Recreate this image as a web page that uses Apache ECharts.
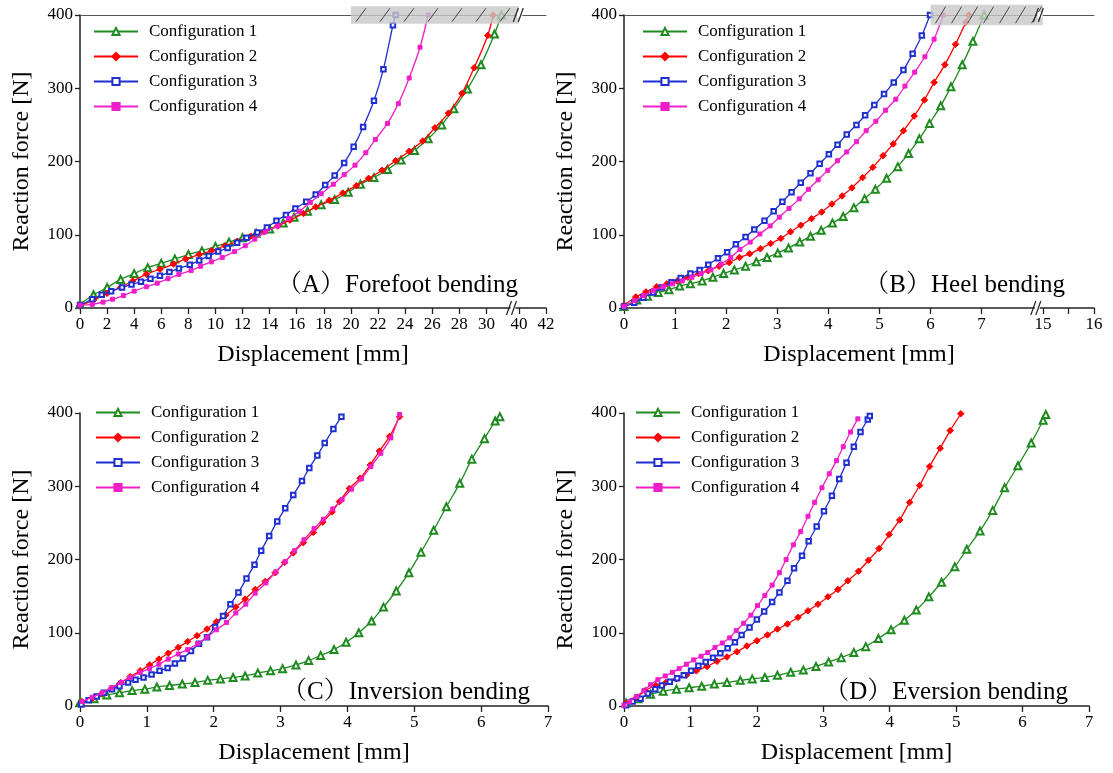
<!DOCTYPE html>
<html><head><meta charset="utf-8">
<script src="https://cdn.jsdelivr.net/npm/echarts@6/dist/echarts.min.js"></script>
<style>html,body{margin:0;padding:0;background:#fff}#c{width:1113px;height:773px}</style>
</head><body><div id="c"></div>
<script>
const SERIES_NAMES = ['Configuration 1', 'Configuration 2', 'Configuration 3', 'Configuration 4'];
const PANEL_TITLES = ['（A）Forefoot bending', '（B）Heel bending', '（C）Inversion bending', '（D）Eversion bending'];

// ---- Panel A: Forefoot bending [displacement mm, force N]
const A_cfg1 = [[0,5],[1,18],[2,28],[3,39],[4,47],[5,55],[6,61],[7,67],[8,73],[9,78],[10,84],[11,90],[12,96],[13,102],[14,108],[15,116],[15.8,124],[16.8,132],[17.8,141],[18.8,148],[19.8,158],[20.7,169],[21.7,178],[22.7,189],[23.7,202],[24.7,215],[25.7,231],[26.7,250],[27.6,272],[28.6,299],[29.6,332],[30.6,374],[31.1,400]];
const A_cfg2 = [[0,3],[1,11],[2,20],[3,28],[3.9,37],[4.9,46],[5.9,53],[6.9,60],[7.8,67],[8.8,73],[9.7,78],[10.7,85],[11.6,91],[12.6,98],[13.6,104],[14.6,112],[15.5,120],[16.5,129],[17.4,138],[18.4,147],[19.4,157],[20.4,167],[21.3,177],[22.3,188],[23.3,201],[24.3,214],[25.3,228],[26.2,246],[27.2,266],[28.2,293],[29.1,328],[30.1,372],[30.5,400]];
const A_cfg3 = [[0,4],[0.9,12],[1.6,18],[2.3,23],[3.1,28],[3.8,32],[4.5,36],[5.2,40],[5.9,44],[6.6,49],[7.3,54],[8.1,59],[8.8,65],[9.5,71],[10.2,77],[10.9,82],[11.6,89],[12.3,96],[13.1,103],[13.8,110],[14.5,119],[15.2,127],[15.9,136],[16.7,145],[17.4,155],[18.1,168],[18.8,181],[19.5,198],[20.2,220],[20.9,247],[21.7,283],[22.4,326],[23.1,386],[23.3,400]];
const A_cfg4 = [[0,4],[0.9,5],[1.7,8],[2.4,12],[3.2,17],[4,23],[4.9,29],[5.7,34],[6.5,40],[7.3,46],[8.2,51],[8.9,57],[9.7,63],[10.5,69],[11.4,77],[12.2,85],[12.9,94],[13.7,104],[14.6,112],[15.4,122],[16.2,132],[17,144],[17.8,156],[18.7,169],[19.5,182],[20.3,195],[21.1,212],[21.8,230],[22.7,252],[23.5,279],[24.3,314],[25.1,356],[25.7,400]];

// ---- Panel B: Heel bending
const B_cfg1 = [[0,2],[0.25,11],[0.46,16],[0.67,21],[0.88,25],[1.09,30],[1.3,33],[1.53,37],[1.74,42],[1.95,47],[2.16,52],[2.38,57],[2.59,63],[2.8,69],[3.01,75],[3.22,82],[3.44,90],[3.65,98],[3.86,106],[4.08,116],[4.29,125],[4.5,137],[4.71,149],[4.92,162],[5.14,177],[5.36,193],[5.57,211],[5.78,231],[5.98,252],[6.2,276],[6.4,302],[6.62,332],[6.83,364],[7.05,400]];
const B_cfg2 = [[0,4],[0.23,15],[0.43,22],[0.64,29],[0.84,33],[1.04,37],[1.25,42],[1.46,47],[1.65,51],[1.86,57],[2.06,62],[2.26,69],[2.46,74],[2.67,81],[2.87,88],[3.07,95],[3.26,104],[3.46,113],[3.67,122],[3.87,131],[4.07,142],[4.27,153],[4.46,164],[4.67,178],[4.87,192],[5.07,208],[5.27,224],[5.47,242],[5.68,262],[5.88,284],[6.07,308],[6.28,332],[6.49,360],[6.69,390],[6.75,400]];
const B_cfg3 = [[0,2],[0.2,7],[0.38,14],[0.57,21],[0.74,28],[0.93,35],[1.11,41],[1.3,47],[1.48,52],[1.65,59],[1.84,68],[2.02,76],[2.19,87],[2.38,97],[2.55,107],[2.75,119],[2.93,132],[3.1,145],[3.28,158],[3.46,171],[3.65,184],[3.83,197],[4.01,210],[4.18,223],[4.36,237],[4.55,250],[4.72,263],[4.9,277],[5.09,292],[5.28,308],[5.47,325],[5.65,347],[5.83,372],[5.99,400]];
const B_cfg4 = [[0,2],[0.21,10],[0.39,17],[0.58,24],[0.77,29],[0.95,33],[1.14,37],[1.33,42],[1.51,47],[1.7,52],[1.9,60],[2.09,69],[2.27,80],[2.47,90],[2.66,101],[2.86,112],[3.04,124],[3.23,136],[3.43,149],[3.61,162],[3.8,175],[3.99,188],[4.18,201],[4.36,213],[4.55,227],[4.74,242],[4.93,255],[5.12,270],[5.32,285],[5.5,303],[5.69,322],[5.89,343],[6.07,367],[6.25,400]];

// ---- Panel C: Inversion bending
const C_cfg1 = [[0,5],[0.21,10],[0.4,15],[0.59,18],[0.78,21],[0.97,23],[1.15,26],[1.34,28],[1.53,30],[1.72,32],[1.91,35],[2.1,37],[2.29,39],[2.47,41],[2.66,45],[2.85,48],[3.03,51],[3.23,56],[3.42,62],[3.6,69],[3.8,77],[3.98,87],[4.17,100],[4.36,116],[4.54,135],[4.73,157],[4.92,182],[5.1,210],[5.29,240],[5.48,272],[5.68,304],[5.86,337],[6.05,365],[6.21,389],[6.28,395]];
const C_cfg2 = [[0.03,6],[0.18,10],[0.33,17],[0.47,24],[0.61,32],[0.75,40],[0.9,48],[1.04,56],[1.18,64],[1.32,72],[1.47,80],[1.61,88],[1.75,96],[1.9,105],[2.04,115],[2.18,124],[2.33,135],[2.47,146],[2.62,159],[2.77,170],[2.92,182],[3.06,196],[3.19,209],[3.34,223],[3.49,237],[3.63,251],[3.77,265],[3.88,279],[4.03,297],[4.19,311],[4.34,329],[4.48,348],[4.63,368],[4.78,395]];
const C_cfg3 = [[0.02,2],[0.13,8],[0.25,13],[0.36,18],[0.48,23],[0.59,27],[0.72,32],[0.83,36],[0.95,39],[1.07,43],[1.19,48],[1.31,52],[1.42,58],[1.54,65],[1.66,75],[1.78,85],[1.9,94],[2.02,108],[2.14,123],[2.25,139],[2.37,155],[2.49,174],[2.61,193],[2.71,212],[2.83,232],[2.95,252],[3.07,270],[3.19,288],[3.32,307],[3.43,325],[3.55,342],[3.66,359],[3.79,378],[3.91,395]];
const C_cfg4 = [[0.03,6],[0.18,12],[0.33,18],[0.47,25],[0.61,32],[0.75,39],[0.9,46],[1.04,51],[1.18,57],[1.32,64],[1.47,71],[1.61,77],[1.76,85],[1.9,94],[2.04,104],[2.19,114],[2.33,127],[2.48,139],[2.62,154],[2.78,168],[2.93,183],[3.07,197],[3.21,212],[3.35,227],[3.5,242],[3.64,255],[3.78,269],[3.92,282],[4.06,296],[4.21,310],[4.35,327],[4.5,345],[4.65,366],[4.78,398]];

// ---- Panel D: Eversion bending
const D_cfg1 = [[0.03,4],[0.21,10],[0.4,16],[0.59,20],[0.79,23],[0.98,25],[1.17,27],[1.36,30],[1.55,32],[1.75,35],[1.93,37],[2.12,39],[2.31,42],[2.51,46],[2.7,49],[2.89,54],[3.08,60],[3.27,66],[3.46,73],[3.64,81],[3.83,92],[4.02,104],[4.22,117],[4.4,131],[4.59,149],[4.78,169],[4.98,190],[5.16,214],[5.36,239],[5.55,267],[5.73,298],[5.93,328],[6.13,359],[6.31,390],[6.35,398]];
const D_cfg2 = [[0.02,3],[0.17,10],[0.32,21],[0.48,28],[0.63,32],[0.79,37],[0.94,42],[1.09,48],[1.25,54],[1.4,61],[1.55,67],[1.7,74],[1.85,82],[2.0,89],[2.16,97],[2.31,105],[2.46,112],[2.62,121],[2.77,130],[2.92,139],[3.07,149],[3.22,159],[3.37,171],[3.53,184],[3.68,199],[3.84,215],[3.99,234],[4.15,254],[4.3,278],[4.45,301],[4.6,327],[4.76,352],[4.91,376],[5.07,399]];
const D_cfg3 = [[0.03,1],[0.13,6],[0.25,10],[0.36,17],[0.47,23],[0.57,28],[0.69,33],[0.8,38],[0.9,42],[1.01,48],[1.12,55],[1.23,60],[1.34,66],[1.45,72],[1.56,79],[1.67,87],[1.77,97],[1.89,107],[2.0,118],[2.11,129],[2.23,142],[2.34,155],[2.46,171],[2.56,188],[2.68,205],[2.78,225],[2.9,245],[3.01,266],[3.13,287],[3.24,310],[3.35,332],[3.46,354],[3.56,374],[3.67,391],[3.7,396]];
const D_cfg4 = [[0,1],[0.08,6],[0.19,13],[0.3,21],[0.4,29],[0.51,36],[0.62,41],[0.73,46],[0.83,51],[0.94,57],[1.05,63],[1.16,68],[1.26,73],[1.37,80],[1.48,86],[1.59,93],[1.69,103],[1.8,113],[1.91,124],[2.01,137],[2.12,151],[2.23,165],[2.34,182],[2.44,200],[2.55,220],[2.66,238],[2.77,259],[2.87,278],[2.98,298],[3.09,317],[3.2,335],[3.3,354],[3.41,374],[3.52,392]];

// ---- tick labels
const Y_TICKS = [0, 100, 200, 300, 400];
const A_X_TICKS = [0,2,4,6,8,10,12,14,16,18,20,22,24,26,28,30,40,42];
const B_X_TICKS = [0,1,2,3,4,5,6,7,15,16];
const B_X_MINOR = [15.5];
const CD_X_TICKS = [0,1,2,3,4,5,6,7];
// broken axes: real interval [start, end] is cut out
const A_BREAK = {start: 32, end: 39.6, max: 42};
const B_BREAK = {start: 8.1, end: 14.9, max: 16};

const FONT = '"Liberation Serif", "Times New Roman", serif';
const FONT_CJK = '"Liberation Serif", "Noto Serif CJK SC", "Noto Sans CJK SC", serif';
const COLORS = ['#1f8a1f', '#ff0000', '#1f2fd0', '#f01ec8'];
const SYMBOLS = ['emptyTriangle', 'diamond', 'emptyRect', 'rect'];
const SYM_SIZE = [7, 6.5, 4.5, 4];

function mapBreak(v, br) { return (br && v >= br.end) ? v - (br.end - br.start) : v; }
function unmapBreak(v, br) { return (br && v > br.start + 1e-9) ? v + (br.end - br.start) : v; }

const chart = echarts.init(document.getElementById('c'), null, {renderer: 'canvas'});

const panels = [
  {data: [A_cfg1, A_cfg2, A_cfg3, A_cfg4], ticks: A_X_TICKS, minor: [], br: A_BREAK, grid: {left: 80, top: 15, width: 466, height: 293}, topLine: true},
  {data: [B_cfg1, B_cfg2, B_cfg3, B_cfg4], ticks: B_X_TICKS, minor: B_X_MINOR, br: B_BREAK, grid: {left: 624, top: 15, width: 470, height: 293}, topLine: true},
  {data: [C_cfg1, C_cfg2, C_cfg3, C_cfg4], ticks: CD_X_TICKS, minor: [], br: null, grid: {left: 80, top: 413, width: 468, height: 293}, topLine: false},
  {data: [D_cfg1, D_cfg2, D_cfg3, D_cfg4], ticks: CD_X_TICKS, minor: [], br: null, grid: {left: 624, top: 413, width: 465, height: 293}, topLine: false}
];

const grids = [], xAxes = [], yAxes = [], series = [];
panels.forEach((p, i) => {
  grids.push(Object.assign({containLabel: false}, p.grid));
  const xmax = p.br ? mapBreak(p.br.max, p.br) : 7;
  const tickVals = p.ticks.map(v => mapBreak(v, p.br));
  const allTicks = tickVals.concat(p.minor.map(v => mapBreak(v, p.br))).sort((a, b) => a - b);
  xAxes.push({
    type: 'value', gridIndex: i, min: 0, max: xmax,
    name: 'Displacement [mm]', nameLocation: 'middle', nameGap: 35,
    nameTextStyle: {fontFamily: FONT, fontSize: 24, color: '#000'},
    axisLine: {show: true, lineStyle: {color: '#222', width: 1.5}},
    axisTick: {show: true, length: 6, lineStyle: {color: '#222', width: 1.3}, customValues: allTicks},
    axisLabel: {fontFamily: FONT, fontSize: 17, color: '#000', margin: 8, customValues: tickVals,
      formatter: v => String(Math.round(unmapBreak(v, p.br) * 10) / 10)},
    splitLine: {show: false}
  });
  yAxes.push({
    type: 'value', gridIndex: i, min: 0, max: 400, interval: 100,
    name: 'Reaction force [N]', nameLocation: 'middle', nameGap: 46,
    nameTextStyle: {fontFamily: FONT, fontSize: 24, color: '#000'},
    axisLine: {show: true, lineStyle: {color: '#222', width: 1.5}},
    axisTick: {show: true, length: 5, lineStyle: {color: '#222', width: 1.3}},
    axisLabel: {fontFamily: FONT, fontSize: 17, color: '#000', margin: 7, customValues: Y_TICKS},
    splitLine: {show: false}
  });
  p.data.forEach((d, k) => {
    series.push({
      type: 'line', name: SERIES_NAMES[k], xAxisIndex: i, yAxisIndex: i,
      data: d.map(pt => [mapBreak(pt[0], p.br), pt[1]]),
      smooth: 0.3, symbol: SYMBOLS[k], symbolSize: SYM_SIZE[k], showAllSymbol: true,
      lineStyle: {color: COLORS[k], width: 1.3},
      itemStyle: {color: COLORS[k], borderColor: COLORS[k], borderWidth: 1},
      emphasis: {disabled: true}, animation: false, clip: false, z: 3 + k
    });
  });
});
// top lines for A and B
panels.forEach((p, i) => {
  if (!p.topLine) return;
  xAxes.push({type: 'value', gridIndex: i, position: 'top', min: 0, max: mapBreak(p.br.max, p.br),
    axisLine: {show: true, lineStyle: {color: '#555', width: 1}}, axisTick: {show: false}, axisLabel: {show: false}, splitLine: {show: false}});
});

const legendPos = [{left: 93, top: 23}, {left: 642, top: 23}, {left: 95, top: 404}, {left: 635, top: 404}];
const legends = legendPos.map(pos => Object.assign({
  orient: 'vertical', data: SERIES_NAMES, itemWidth: 44, itemHeight: 9, itemGap: 8,
  textStyle: {fontFamily: FONT, fontSize: 17, color: '#000', padding: [0, 0, 0, 6], lineHeight: 16},
  selectedMode: false, padding: 0
}, pos));

chart.setOption({
  animation: false, backgroundColor: '#fff',
  grid: grids, xAxis: xAxes, yAxis: yAxes, legend: legends, series: series
});

// decorations computed through the axes
function px(i, x, y) { return chart.convertToPixel({xAxisIndex: i, yAxisIndex: i}, [x, y]); }
const g = [];
function band(i, x0, x1, y0, y1, spacing) {
  const a = px(i, x0, y1), b = px(i, x1, y0);
  g.push({type: 'rect', z: 50, silent: true, shape: {x: a[0], y: a[1], width: b[0] - a[0], height: b[1] - a[1]}, style: {fill: 'rgba(200,200,200,0.8)'}});
  for (let x = a[0] + 5; x < b[0] - 6; x += spacing) {
    g.push({type: 'line', z: 51, silent: true, shape: {x1: x, y1: b[1] - 2, x2: x + 10, y2: a[1] + 2}, style: {stroke: '#444', lineWidth: 1}});
  }
}
function brk(i, xv, yv) {
  const p = px(i, xv, yv);
  g.push({type: 'rect', z: 52, silent: true, shape: {x: p[0] - 3, y: p[1] - 3, width: 5, height: 6}, style: {fill: '#fff'}});
  g.push({type: 'line', z: 53, silent: true, shape: {x1: p[0] - 7, y1: p[1] + 7, x2: p[0] - 2, y2: p[1] - 7}, style: {stroke: '#222', lineWidth: 1.2}});
  g.push({type: 'line', z: 53, silent: true, shape: {x1: p[0] - 2, y1: p[1] + 7, x2: p[0] + 3, y2: p[1] - 7}, style: {stroke: '#222', lineWidth: 1.2}});
}
band(0, 20, 32.4, 388, 412, 24);
band(1, 6.0, 8.2, 386, 414, 16);
brk(0, A_BREAK.start, 0); brk(0, A_BREAK.start + 0.5, 400);
brk(1, B_BREAK.start, 0); brk(1, B_BREAK.start + 0.05, 400);

const titlePos = [[518, 285], [1065, 285], [530, 692], [1068, 692]];
PANEL_TITLES.forEach((t, i) => {
  g.push({type: 'text', z: 60, silent: true, x: titlePos[i][0], y: titlePos[i][1],
    style: {text: t, font: '25px ' + FONT_CJK, fill: '#000', textAlign: 'right', textVerticalAlign: 'middle'}});
});
chart.setOption({graphic: {elements: g}});
</script></body></html>
